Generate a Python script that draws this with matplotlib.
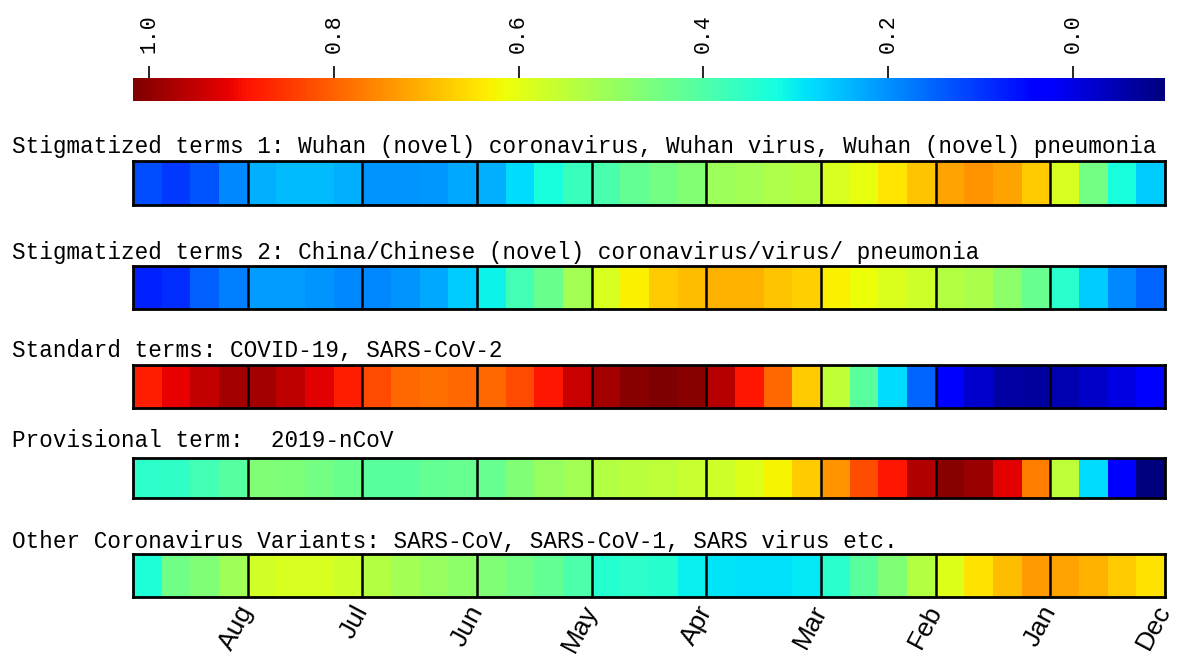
"""
Weekly usage intensity of coronavirus terms, one jet-coloured strip per term group.
"""
import numpy as np
import matplotlib
matplotlib.use("Agg")
import matplotlib.pyplot as plt

# normalised weekly values (0..1), Aug on the left back to Dec on the right
months = ["Aug", "Jul", "Jun", "May", "Apr", "Mar", "Feb", "Jan", "Dec"]
weeks_per_month = 4

titles = [
    "Stigmatized terms 1: Wuhan (novel) coronavirus, Wuhan virus, Wuhan (novel) pneumonia",
    "Stigmatized terms 2: China/Chinese (novel) coronavirus/virus/ pneumonia",
    "Standard terms: COVID-19, SARS-CoV-2",
    "Provisional term:  2019-nCoV",
    "Other Coronavirus Variants: SARS-CoV, SARS-CoV-1, SARS virus etc.",
]

stigmatized_1 = [0.20, 0.18, 0.21, 0.26, 0.30, 0.31, 0.31, 0.30, 0.27, 0.27, 0.275, 0.29,
                 0.30, 0.34, 0.38, 0.42, 0.44, 0.47, 0.49, 0.51, 0.54, 0.55, 0.56, 0.57,
                 0.61, 0.63, 0.665, 0.70, 0.735, 0.75, 0.735, 0.695, 0.61, 0.49, 0.38, 0.325]
stigmatized_2 = [0.16, 0.17, 0.22, 0.25, 0.28, 0.28, 0.27, 0.26, 0.26, 0.27, 0.29, 0.325,
                 0.365, 0.43, 0.48, 0.55, 0.61, 0.655, 0.695, 0.71, 0.72, 0.72, 0.70, 0.69,
                 0.655, 0.64, 0.615, 0.60, 0.57, 0.555, 0.52, 0.475, 0.40, 0.325, 0.26, 0.225]
standard = [0.878, 0.908, 0.938, 0.967, 0.967, 0.945, 0.912, 0.878, 0.83, 0.80, 0.79, 0.80,
            0.80, 0.83, 0.883, 0.935, 0.967, 0.99, 1.0, 0.99, 0.95, 0.883, 0.80, 0.695,
            0.585, 0.46, 0.34, 0.225, 0.115, 0.07, 0.035, 0.03, 0.044, 0.066, 0.088, 0.11]
provisional = [0.405, 0.41, 0.43, 0.455, 0.505, 0.50, 0.49, 0.48, 0.46, 0.46, 0.47, 0.475,
               0.475, 0.505, 0.535, 0.55, 0.567, 0.575, 0.58, 0.59, 0.60, 0.62, 0.65, 0.695,
               0.75, 0.825, 0.885, 0.955, 0.99, 0.975, 0.912, 0.775, 0.58, 0.34, 0.12, 0.0]
other_variants = [0.39, 0.486, 0.505, 0.545, 0.605, 0.61, 0.61, 0.60, 0.567, 0.55, 0.535, 0.52,
                  0.505, 0.49, 0.47, 0.445, 0.397, 0.405, 0.397, 0.36, 0.35, 0.345, 0.345, 0.355,
                  0.40, 0.46, 0.505, 0.567, 0.62, 0.67, 0.71, 0.745, 0.735, 0.72, 0.695, 0.67]

rows = [stigmatized_1, stigmatized_2, standard, provisional, other_variants]

cbar_ticks = [1.0, 0.8, 0.6, 0.4, 0.2, 0.0]
cbar_labels = ["1.0", "0.8", "0.6", "0.4", "0.2", "0.0"]

MONO = ["Liberation Mono", "DejaVu Sans Mono"]
SANS = ["Liberation Sans", "DejaVu Sans"]

W, H = 1178, 664
fig = plt.figure(figsize=(W / 100, H / 100), dpi=100)


def px_axes(x0, y0, x1, y1):
    return fig.add_axes([x0 / W, 1 - y1 / H, (x1 - x0) / W, (y1 - y0) / H])


# colour scale bar (drawn reversed, 1.0 on the left)
cax = px_axes(133, 78, 1165, 101)
lo, hi = 1.0173, -0.0996
cax.imshow(np.linspace(1, 0, 512)[None, :], cmap="jet", vmin=0, vmax=1,
           aspect="auto", extent=(lo, hi, 0, 1))
cax.set_xlim(lo, hi)
cax.xaxis.tick_top()
cax.set_xticks(cbar_ticks, labels=cbar_labels)
cax.tick_params(axis="x", direction="out", length=9, width=1.2, pad=9,
                labelrotation=90, labelsize=15.5)
for lbl in cax.get_xticklabels():
    lbl.set_family(MONO)
cax.set_yticks([])
for sp in cax.spines.values():
    sp.set_visible(False)

strip_tops = [161, 266, 365, 458, 554]
strip_bottoms = [205, 309, 408, 498, 597]
title_baselines = [153, 259, 357, 447, 548]

for i, vals in enumerate(rows):
    ax = px_axes(133, strip_tops[i], 1165, strip_bottoms[i])
    n = len(vals)
    ax.imshow(np.array(vals)[None, :], cmap="jet", vmin=0, vmax=1,
              aspect="auto", extent=(0, n, 0, 1), interpolation="nearest")
    for k in range(weeks_per_month, n, weeks_per_month):
        ax.axvline(k, color="black", lw=1.8)
    for sp in ax.spines.values():
        sp.set_color("black")
        sp.set_linewidth(2.0)
    ax.set_yticks([])
    ax.set_xticks([])
    fig.text(12 / W, 1 - title_baselines[i] / H, titles[i], family=MONO,
             fontsize=16.3, va="baseline", ha="left")

# month labels under the last strip, at the month boundaries
edges = [(j + 1) * weeks_per_month for j in range(len(months))]
ax.set_xticks(edges, labels=months)
ax.tick_params(axis="x", length=0, pad=7, labelsize=19)
for lbl in ax.get_xticklabels():
    lbl.set(rotation=62, ha="right", va="center", rotation_mode="anchor", family=SANS)

fig.savefig("out.png", dpi=100)
plt.close(fig)
